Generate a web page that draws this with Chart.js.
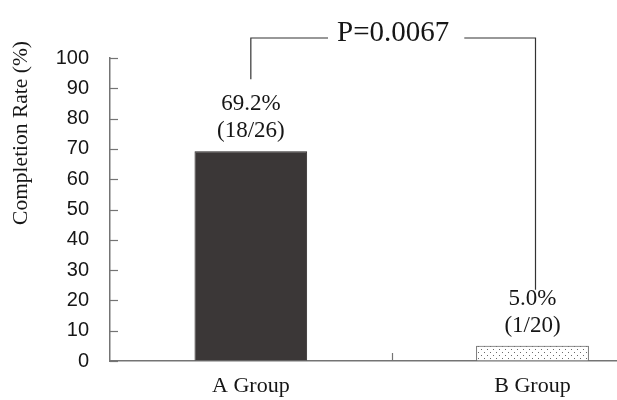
<!DOCTYPE html>
<html>
<head>
<meta charset="utf-8">
<script src="https://cdn.jsdelivr.net/npm/chart.js@4"></script>
<style>
  html, body { margin: 0; padding: 0; background: #fff; }
  #wrap { width: 617px; height: 400px; }
</style>
</head>
<body>
<div id="wrap"><canvas id="completionChart" width="617" height="400"></canvas></div>
<script>
var groups = ["A Group", "B Group"];
var rates = [69.2, 5.0];
var counts = ["(18/26)", "(1/20)"];
var yTicks = [0, 10, 20, 30, 40, 50, 60, 70, 80, 90, 100];
var pLabel = "P=0.0067";

var serif = "'Liberation Serif', 'Times New Roman', serif";
var sans = "'Liberation Sans', Arial, sans-serif";
var axisColor = "#747474";
var inkColor = "#161616";

function makeDotPattern() {
  var c = document.createElement("canvas");
  c.width = 6;
  c.height = 6;
  var g = c.getContext("2d");
  g.fillStyle = "#ffffff";
  g.fillRect(0, 0, 6, 6);
  g.fillStyle = "#6a6a6a";
  g.fillRect(1, 1, 1, 1);
  g.fillRect(4, 4, 1, 1);
  return g.createPattern(c, "repeat");
}

// inward ticks, value labels, the P-value bracket and the y title
var annotations = {
  id: "annotations",
  afterDraw: function (chart) {
    var ctx = chart.ctx;
    var x = chart.scales.x;
    var y = chart.scales.y;
    var area = chart.chartArea;
    ctx.save();

    ctx.strokeStyle = axisColor;
    ctx.lineWidth = 1.2;
    yTicks.forEach(function (v) {
      var py = Math.round(y.getPixelForValue(v)) + 0.5;
      ctx.beginPath();
      ctx.moveTo(area.left, py);
      ctx.lineTo(area.left + 8, py);
      ctx.stroke();
    });
    for (var i = 0; i < groups.length - 1; i++) {
      var px = Math.round(x.getPixelForValue(i + 0.5)) + 0.5;
      ctx.beginPath();
      ctx.moveTo(px, area.bottom);
      ctx.lineTo(px, area.bottom - 8);
      ctx.stroke();
    }

    var meta = chart.getDatasetMeta(0);
    ctx.fillStyle = inkColor;
    ctx.font = "23px " + serif;
    ctx.textAlign = "center";
    ctx.textBaseline = "middle";
    meta.data.forEach(function (bar, i) {
      ctx.fillText(rates[i].toFixed(1) + "%", bar.x, bar.y - 47);
      ctx.fillText(counts[i], bar.x, bar.y - 20);
    });

    // bracket between the two groups
    var xa = x.getPixelForValue(0);
    var xb = x.getPixelForValue(1) + 3;
    var yTop = y.getPixelForValue(106.6);
    var yA = y.getPixelForValue(93);
    var yB = y.getPixelForValue(23.5);
    var mid = (xa + xb) / 2;
    ctx.font = "29px " + serif;
    var half = ctx.measureText(pLabel).width / 2 + 9;
    ctx.strokeStyle = "#333";
    ctx.lineWidth = 1.2;
    ctx.beginPath();
    ctx.moveTo(xa, yA);
    ctx.lineTo(xa, yTop);
    ctx.lineTo(mid - half, yTop);
    ctx.moveTo(mid + half + 6, yTop);
    ctx.lineTo(xb, yTop);
    ctx.lineTo(xb, yB);
    ctx.stroke();
    ctx.fillText(pLabel, mid, yTop - 5);

    ctx.font = "21.5px " + serif;
    ctx.translate(21, 133);
    ctx.rotate(-Math.PI / 2);
    ctx.fillText("Completion Rate (%)", 0, 0);
    ctx.restore();
  }
};

var ctx = document.getElementById("completionChart").getContext("2d");
var completionChart = new Chart(ctx, {
  type: "bar",
  data: {
    datasets: [
      {
        data: rates.map(function (v, i) { return { x: i, y: v }; }),
        backgroundColor: ["#3b3737", makeDotPattern()],
        borderColor: ["#2a2626", "#4a4a4a"],
        borderWidth: 1,
        barPercentage: 0.4,
        categoryPercentage: 1,
      },
    ],
  },
  options: {
    responsive: false,
    animation: false,
    layout: { padding: { top: 58, right: 0, bottom: 0, left: 0 } },
    plugins: {
      legend: { display: false },
      tooltip: { enabled: false },
    },
    scales: {
      x: {
        type: "linear",
        min: -0.5,
        max: 1.3,
        offset: false,
        afterFit: function (scale) { scale.height = 39; },
        afterBuildTicks: function (scale) {
          scale.ticks = groups.map(function (g, i) { return { value: i }; });
        },
        ticks: {
          color: inkColor,
          padding: 12,
          maxRotation: 0,
          font: { family: serif, size: 22 },
          callback: function (value) { return groups[value]; },
        },
        grid: { offset: false, drawOnChartArea: false, drawTicks: false },
        border: { color: axisColor, width: 1.5 },
      },
      y: {
        min: 0,
        max: 100,
        afterFit: function (scale) { scale.width = 110; },
        afterBuildTicks: function (scale) {
          scale.ticks = yTicks.map(function (v) { return { value: v }; });
        },
        ticks: {
          color: inkColor,
          padding: 21,
          font: { family: sans, size: 20 },
        },
        grid: { drawOnChartArea: false, drawTicks: false },
        border: { color: axisColor, width: 1.5 },
      },
    },
  },
  plugins: [annotations],
});
</script>
</body>
</html>
